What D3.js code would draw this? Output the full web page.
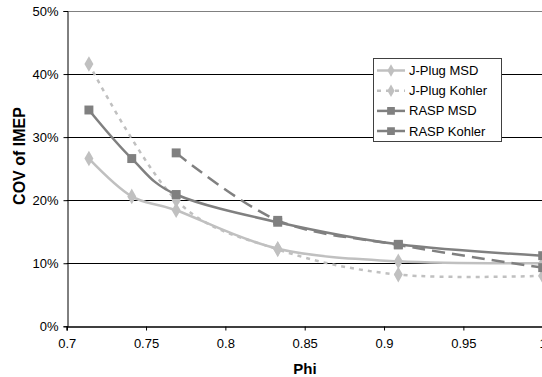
<!DOCTYPE html>
<html><head><meta charset="utf-8">
<script src="https://cdn.jsdelivr.net/npm/d3@7"></script>
<style>body{margin:0;background:#fff}svg{display:block;font-family:"Liberation Sans",Arial,sans-serif}</style>
</head><body><svg id="c" width="542" height="377"></svg>
<script>
const phiAll = [0.714, 0.741, 0.769, 0.833, 0.909, 1.0];
const phiJKohler = [0.714, 0.769, 0.833, 0.909, 1.0];
const phiRKohler = [0.769, 0.833, 0.909, 1.0];
const jPlugMSD = [26.6, 20.6, 18.4, 12.3, 10.3, 10.0];
const jPlugKohler = [41.6, 20.0, 12.2, 8.2, 8.0];
const raspMSD = [34.3, 26.6, 20.9, 16.5, 13.0, 11.2];
const raspKohler = [27.5, 16.8, 12.9, 9.3];
const xTicks = [0.7, 0.75, 0.8, 0.85, 0.9, 0.95, 1];
const yTicks = [0, 10, 20, 30, 40, 50];
const seriesNames = ["J-Plug MSD", "J-Plug Kohler", "RASP MSD", "RASP Kohler"];

const svg = d3.select("#c");
const x = d3.scaleLinear().domain([0.7, 1.0]).range([66.7, 542.7]);
const y = d3.scaleLinear().domain([0, 50]).range([326.3, 11]);

// gridlines
svg.append("g").selectAll("line").data(yTicks.filter(d => d > 0)).join("line")
  .attr("x1", x(0.7)).attr("x2", 542).attr("y1", d => Math.round(y(d)) + 0.5).attr("y2", d => Math.round(y(d)) + 0.5)
  .attr("stroke", d => d === 50 ? "#808080" : "#000").attr("stroke-width", 1);

// axes
const yAxis = d3.axisLeft(y).tickValues(yTicks).tickFormat(d => d + "%").tickSize(4).tickPadding(5);
const gy = svg.append("g").attr("transform", `translate(${Math.round(x(0.7)) + 0.5},0)`).call(yAxis);
gy.select(".domain").attr("stroke", "#000");
gy.selectAll(".tick line").attr("stroke", "#000");
gy.selectAll("text").attr("font-size", 13).attr("fill", "#000").attr("font-family", "Liberation Sans, Arial");

const xAxis = d3.axisBottom(x).tickValues(xTicks).tickFormat(d3.format("")).tickSize(4).tickPadding(8);
const gx = svg.append("g").attr("transform", `translate(0,${Math.round(y(0)) + 0.5})`).call(xAxis);
gx.select(".domain").attr("stroke", "#000").attr("stroke-width", 1.5);
gx.selectAll(".tick line").attr("stroke", "#000");
gx.selectAll("text").attr("font-size", 13).attr("fill", "#000").attr("font-family", "Liberation Sans, Arial");

// titles
svg.append("text").attr("x", 305).attr("y", 374).attr("text-anchor", "middle")
  .attr("font-size", 15).attr("font-weight", "bold").text("Phi");
svg.append("text").attr("transform", "translate(25,156) rotate(-90)").attr("text-anchor", "middle")
  .attr("font-size", 16).attr("font-weight", "bold").text("COV of IMEP");

const line = d3.line().x(d => x(d[0])).y(d => y(d[1])).curve(d3.curveCardinal.tension(0));
const light = "#c0c0c0", dark = "#808080";
const series = [
  {name: seriesNames[0], xs: phiAll, ys: jPlugMSD, color: light, dash: null, marker: "diamond"},
  {name: seriesNames[1], xs: phiJKohler, ys: jPlugKohler, color: light, dash: "4,5", marker: "diamond"},
  {name: seriesNames[2], xs: phiAll, ys: raspMSD, color: dark, dash: null, marker: "square"},
  {name: seriesNames[3], xs: phiRKohler, ys: raspKohler, color: dark, dash: "13,7", marker: "square"}
];
const diamond = d3.symbol().type(d3.symbolDiamond).size(70);
const square = d3.symbol().type(d3.symbolSquare).size(80);

series.forEach(s => {
  const pts = s.xs.map((v, i) => [v, s.ys[i]]);
  svg.append("path").attr("d", line(pts)).attr("fill", "none").attr("stroke", s.color)
    .attr("stroke-width", 2.5).attr("stroke-dasharray", s.dash);
  svg.append("g").selectAll("path").data(pts).join("path")
    .attr("transform", d => `translate(${x(d[0])},${y(d[1])})`)
    .attr("d", s.marker === "diamond" ? diamond() : square())
    .attr("fill", s.color);
});

// legend
const lg = svg.append("g");
lg.append("rect").attr("x", 373.5).attr("y", 58.5).attr("width", 128).attr("height", 83)
  .attr("fill", "#fff").attr("stroke", "#404040").attr("stroke-width", 1);
series.forEach((s, i) => {
  const yy = 70.5 + i * 20.2;
  lg.append("line").attr("x1", 377).attr("x2", 405).attr("y1", yy).attr("y2", yy)
    .attr("stroke", s.color).attr("stroke-width", 2.5).attr("stroke-dasharray", s.dash ? (i === 1 ? "4,5" : "11,6") : null);
  lg.append("path").attr("transform", `translate(391,${yy})`)
    .attr("d", s.marker === "diamond" ? d3.symbol().type(d3.symbolDiamond).size(45)() : d3.symbol().type(d3.symbolSquare).size(60)())
    .attr("fill", s.color);
  lg.append("text").attr("x", 409).attr("y", yy + 4.5).attr("font-size", 13).text(s.name);
});
</script></body></html>
